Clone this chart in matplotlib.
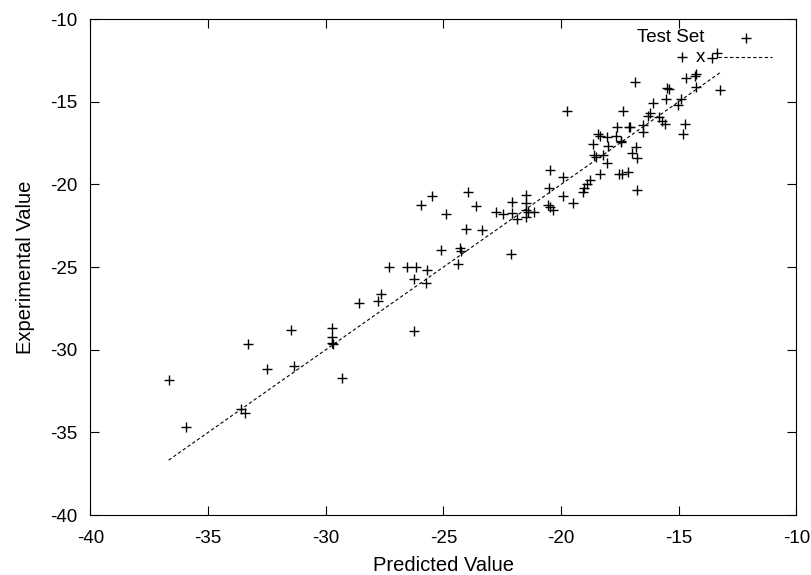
import matplotlib
matplotlib.use("Agg")
import matplotlib.pyplot as plt
from matplotlib.lines import Line2D

plt.rcParams['font.family'] = ['Liberation Sans', 'DejaVu Sans']
plt.rcParams['font.size'] = 13.5
plt.rcParams['axes.unicode_minus'] = False

predicted = [
    -36.68, -35.95, -33.60, -33.43, -33.32, -32.51, -31.47, -31.35, -29.74, -29.74,
    -29.74, -29.70, -29.31, -28.59, -27.77, -27.65, -27.31, -26.56, -26.18, -25.70,
    -26.25, -25.74, -26.25, -25.10, -24.30, -24.25, -24.37, -22.14, -24.05, -23.35,
    -24.90, -25.97, -25.47, -23.97, -23.63, -22.77, -22.46, -22.10, -22.10, -21.89,
    -21.49, -21.49, -21.49, -21.39, -21.49, -21.14, -20.54, -20.47, -20.36, -20.50,
    -20.47, -19.91, -19.91, -19.48, -19.03, -19.06, -18.91, -18.77, -18.35, -17.54,
    -17.42, -17.14, -16.79, -18.04, -18.60, -18.52, -18.21, -17.00, -16.79, -18.66,
    -18.02, -16.82, -17.45, -17.45, -18.45, -18.35, -18.04, -17.67, -17.64, -17.11,
    -17.08, -16.53, -16.53, -15.58, -14.73, -14.83, -15.83, -15.72, -16.22, -16.33,
    -17.36, -19.76, -16.11, -15.02, -15.56, -14.90, -16.86, -15.51, -15.41, -14.27,
    -13.25, -14.69, -14.25, -14.30, -14.87, -13.59, -13.39,
]
experimental = [
    -31.86, -34.66, -33.61, -33.82, -29.68, -31.19, -28.81, -31.00, -28.71, -29.22,
    -29.58, -29.66, -31.70, -27.20, -27.08, -26.64, -24.98, -24.98, -24.98, -25.18,
    -25.73, -25.99, -28.86, -23.97, -23.87, -24.04, -24.84, -24.23, -22.72, -22.76,
    -21.80, -21.25, -20.71, -20.47, -21.29, -21.66, -21.80, -21.05, -21.72, -22.12,
    -20.65, -21.15, -21.55, -21.66, -21.96, -21.66, -21.25, -21.36, -21.55, -20.24,
    -19.13, -19.54, -20.71, -21.11, -20.24, -20.48, -20.00, -19.74, -19.40, -19.40,
    -19.38, -19.28, -20.34, -18.69, -18.23, -18.35, -18.23, -18.12, -18.39, -17.58,
    -17.66, -17.72, -17.38, -17.42, -16.98, -17.06, -17.12, -17.06, -16.51, -16.51,
    -16.55, -16.41, -16.85, -16.37, -16.37, -16.98, -15.91, -16.17, -15.71, -15.85,
    -15.57, -15.55, -15.06, -15.20, -14.86, -14.86, -13.79, -14.19, -14.23, -14.13,
    -14.30, -13.55, -13.35, -13.45, -12.32, -12.38, -12.08,
]

series_label = "Test Set"
line_label = "x"
x_ticks = [-40, -35, -30, -25, -20, -15, -10]
y_ticks = [-40, -35, -30, -25, -20, -15, -10]

fig = plt.figure(figsize=(8.12, 5.75), dpi=100)
ax = fig.add_axes([90.5 / 812, 1 - 515 / 575, 706 / 812, 496 / 575])

ax.plot(predicted, experimental, linestyle='none', marker='+', color='black',
        markersize=7, markeredgewidth=1.0)

lo, hi = min(predicted), max(predicted)
ax.plot([lo, hi], [lo, hi], color='black', linewidth=0.8, linestyle=(0, (3, 2.2)))

ax.set_xlim(-40, -10)
ax.set_ylim(-40, -10)
ax.set_xticks(x_ticks)
ax.set_yticks(y_ticks)
ax.tick_params(direction='in', length=6.5, width=0.8, top=True, right=True,
               labelsize=13.5)
ax.tick_params(axis='x', pad=10.5)
ax.tick_params(axis='y', pad=9.5)
for s in ax.spines.values():
    s.set_linewidth(0.8)

ax.set_xlabel("Predicted Value", fontsize=14.5, labelpad=7)
ax.set_ylabel("Experimental Value", fontsize=14.5, labelpad=11)

# gnuplot-style key (text right-aligned, sample on the right)
ax.text(0.870, 0.9617, series_label, transform=ax.transAxes, ha='right', va='center', fontsize=13.5)
ax.add_line(Line2D([0.9285], [0.9617], transform=ax.transAxes, marker='+', color='black',
                   markersize=7, markeredgewidth=1.0, linestyle='none'))
ax.text(0.870, 0.923, line_label, transform=ax.transAxes, ha='right', va='center', fontsize=13.5)
ax.add_line(Line2D([0.889, 0.965], [0.923, 0.923], transform=ax.transAxes, color='black',
                   linewidth=0.8, linestyle=(0, (3, 2.2))))

fig.savefig("out.png", dpi=100)
